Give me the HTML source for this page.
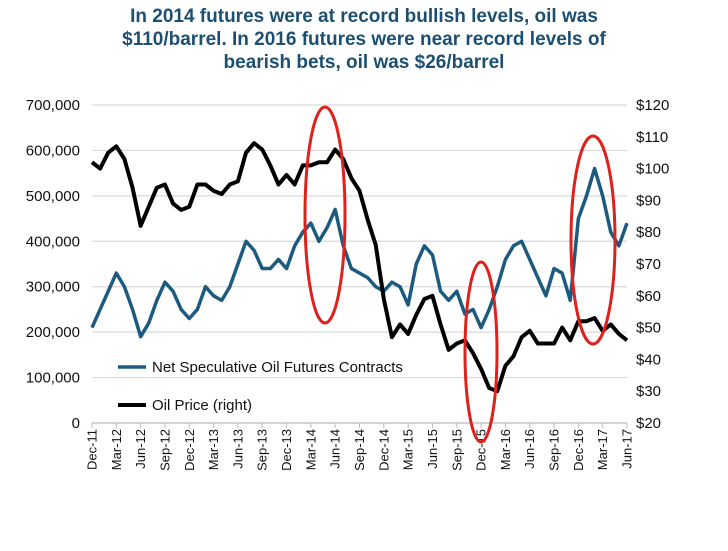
<!DOCTYPE html>
<html><head><meta charset="utf-8"><style>
body{margin:0;background:#fff;width:728px;height:546px;overflow:hidden;font-family:"Liberation Sans",Arial,sans-serif}
</style></head><body>
<svg id="c" width="728" height="546" xmlns="http://www.w3.org/2000/svg">
<g font-weight="bold" font-size="19" fill="#1c4f72" text-anchor="middle">
<text x="364" y="22">In 2014 futures were at record bullish levels, oil was</text>
<text x="364" y="45">$110/barrel. In 2016 futures were near record levels of</text>
<text x="364" y="68">bearish bets, oil was $26/barrel</text>
</g>
<g id="grid"></g><g id="ticks"></g><g id="series"></g>
<g fill="none" stroke="#e0201c" stroke-width="3">
<ellipse cx="325" cy="215" rx="20" ry="108"/>
<ellipse cx="481" cy="352" rx="16" ry="90"/>
<ellipse cx="593" cy="240" rx="22" ry="104"/>
</g>
<g font-size="15" fill="#111">
<line x1="118" y1="367" x2="146" y2="367" stroke="#1d5a80" stroke-width="3.5"/>
<text x="152" y="372">Net Speculative Oil Futures Contracts</text>
<line x1="118" y1="405" x2="146" y2="405" stroke="#000" stroke-width="4"/>
<text x="152" y="410">Oil Price (right)</text>
</g>
</svg>
<script>
const months=["Dec-11","Mar-12","Jun-12","Sep-12","Dec-12","Mar-13","Jun-13","Sep-13","Dec-13","Mar-14","Jun-14","Sep-14","Dec-14","Mar-15","Jun-15","Sep-15","Dec-15","Mar-16","Jun-16","Sep-16","Dec-16","Mar-17","Jun-17"];
const leftTicks=[0,100000,200000,300000,400000,500000,600000,700000];
const rightTicks=[20,30,40,50,60,70,80,90,100,110,120];
const netSpec=[210,250,290,330,300,250,190,220,270,310,290,250,230,250,300,280,270,300,350,400,380,340,340,360,340,390,420,440,400,430,470,390,340,330,320,300,290,310,300,260,350,390,370,290,270,290,240,250,210,250,300,360,390,400,360,320,280,340,330,270,450,500,560,500,420,390,440];
const oil=[102,100,105,107,103,94,82,88,94,95,89,87,88,95,95,93,92,95,96,105,108,106,101,95,98,95,101,101,102,102,106,103,97,93,84,76,59,47,51,48,54,59,60,51,43,45,46,42,37,31,30,38,41,47,49,45,45,45,50,46,52,52,53,49,51,48,46];
const X0=92,X1=627,YT=105,YB=423;
const xM=m=>X0+m*(X1-X0)/66;
const yL=v=>YB-(v/700000)*(YB-YT);
const yR=v=>YB-((v-20)/100)*(YB-YT);
const NS="http://www.w3.org/2000/svg";
function mk(t,a,p){const e=document.createElementNS(NS,t);for(const k in a)e.setAttribute(k,a[k]);p.appendChild(e);return e;}
const grid=document.getElementById('grid'),ticks=document.getElementById('ticks'),ser=document.getElementById('series');
leftTicks.forEach(v=>{
 const l=mk('line',{x1:X0,x2:X1,y1:yL(v),y2:yL(v),stroke:v===0?'#bbb':'#d9d9d9','stroke-width':1.2},grid);
 
 
 const t=mk('text',{x:80,y:yL(v)+5,'text-anchor':'end','font-size':15,fill:'#111'},ticks);
 t.textContent=v===0?'0':v.toLocaleString('en-US');
 
 
});
rightTicks.forEach(v=>{
 const t=mk('text',{x:636,y:yR(v)+5,'font-size':15,fill:'#111'},ticks);
 t.textContent='$'+v;
 
 
});
months.forEach((m,i)=>{
 const x=xM(i*3);
 mk('line',{x1:x,x2:x,y1:YB,y2:YB+5,stroke:'#bbb'},grid);
 const t=mk('text',{x:0,y:0,'text-anchor':'end','font-size':13,fill:'#111',transform:`translate(${x+4.5},${YB+6}) rotate(-90)`},ticks);
 t.textContent=m;
 
 
});
const p1=mk('polyline',{points:netSpec.map((v,i)=>xM(i)+','+yL(v*1000)).join(' '),fill:'none',stroke:'#1d5a80','stroke-width':3.5,'stroke-linejoin':'round'},ser);


const p2=mk('polyline',{points:oil.map((v,i)=>xM(i)+','+yR(v)).join(' '),fill:'none',stroke:'#000','stroke-width':4,'stroke-linejoin':'round'},ser);


</script>
</body></html>
